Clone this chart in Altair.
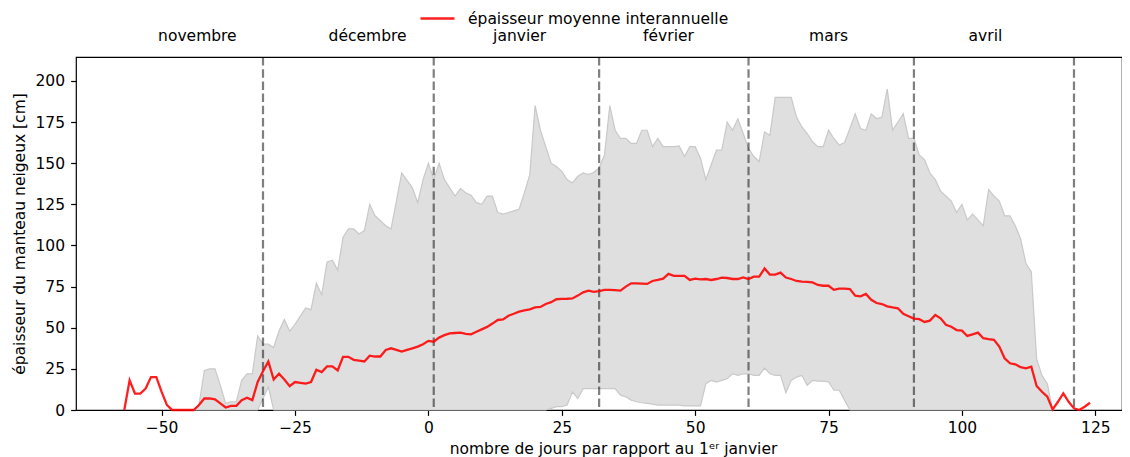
import altair as alt
import pandas as pd

# ---------------- data ----------------
mean_days = list(range(-57, 125))
mean_cm = [
    0, 18, 10, 10, 13, 20, 20, 11, 3, 0,            # -57..-48
    0, 0, 0, 0, 3, 7, 7, 6.5, 4, 1.5,               # -47..-38
    2.5, 2.5, 6, 7.5, 6, 17, 23.5, 29.5, 18.5, 22,  # -37..-28
    18.5, 14.5, 17, 16.5, 16, 17, 24.5, 23, 26.5, 26.5,  # -27..-18
    24, 32.3, 32.3, 30.5, 30, 29.5, 33, 32.5, 32.5, 36.5,  # -17..-8
    37.5, 36.5, 35.5, 36.5, 37.5, 38.5, 40, 42, 41.5, 44,  # -7..2
    45.5, 46.5, 46.8, 47, 46.3, 46, 47.5, 49, 50.5, 52.5,  # 3..12
    54.7, 55, 57.3, 58.5, 59.8, 60.5, 61.2, 62.4, 62.6, 64.4,  # 13..22
    65.5, 67.3, 67.5, 67.6, 67.8, 69.5, 71.5, 72.5, 71.8, 72.2,  # 23..32
    73, 73, 72.8, 72.5, 75, 77, 77, 76.8, 76.6, 78.4,  # 33..42
    79, 79.8, 82.7, 81.5, 81.5, 81.5, 79, 79.8, 79.4, 79.6,  # 43..52
    79, 79.6, 80.4, 80.2, 79.6, 79.6, 80.6, 79.6, 81, 81,  # 53..62
    86, 82.3, 82.3, 83.5, 80.5, 79.6, 78.4, 78, 77.8, 77.5,  # 63..72
    76, 75.5, 75.5, 73, 73.7, 73.7, 73.5, 69.5, 69.1, 70.5,  # 73..82
    67, 65, 64.4, 63, 62.3, 61.8, 58.4, 57, 55.5, 55.2,  # 83..92
    53.5, 54.3, 57.7, 55.7, 51.8, 50.6, 48.6, 48.2, 45, 46,  # 93..102
    47, 43.6, 43, 42.6, 38.5, 31.4, 28.4, 27.8, 26, 25.3,  # 103..112
    26.3, 14.6, 11.1, 8.1, 0.4, 5, 10.1, 5, 1, 0,  # 113..122
    2, 4.4,  # 123..124
]

band_days = list(range(-44, 118))
max_cm = [
    0, 3, 24, 25, 25, 15, 4, 5, 5, 18,               # -44..-35
    22, 22, 45, 40, 40, 38, 48, 55, 48, 52,          # -34..-25
    57, 62, 61, 77, 70, 90, 91, 85, 105, 110,        # -24..-15
    110, 107, 109, 125, 118, 115, 112, 110, 127, 144,  # -14..-5
    139.5, 135, 126, 140, 150, 140, 150, 140, 135, 130,  # -4..5
    134.5, 132, 130.5, 126, 125, 130, 130, 120, 119, 120,  # 6..15
    121, 122, 132, 143, 185, 170, 160, 150, 148, 145,  # 16..25
    140, 138, 142, 144, 143, 144.5, 147, 155, 185, 170,  # 26..35
    165, 165, 162, 162, 170, 170, 160, 165, 160, 160,  # 36..45
    160, 160.5, 154, 160, 160, 153, 140, 149, 158, 158,  # 46..55
    175, 170, 177, 168, 159, 154, 151, 169, 167, 190,  # 56..65
    190, 190, 190, 178, 172, 168, 163, 160, 160, 170,  # 66..75
    165, 161, 162.5, 171, 180, 171, 170, 180, 177, 178,  # 76..85
    195, 170, 175, 180, 165, 165, 155, 152, 144, 140,  # 86..95
    133, 130, 127, 120, 125, 115.5, 119, 115.5, 112, 134,  # 96..105
    130, 127, 118, 118, 112, 104, 89, 84, 31, 21,  # 106..115
    16, 0,  # 116..117
]
min_cm = (
    [0] * 12                                   # -44..-33
    + [0, 7, 14, 0]                            # -32..-29
    + [0] * 51                                 # -28..22
    + [1, 2, 2, 3, 11, 7]                      # 23..28
    + [13] * 7                                 # 29..35
    + [9, 8, 6, 5, 4.4, 4, 3.6]                # 36..42
    + [3] * 5                                  # 43..47
    + [2.5] * 4                                # 48..51
    + [16, 18, 17, 18, 19, 22, 21, 22, 22, 21]  # 52..61
    + [21, 25.5, 22, 21, 21, 10.5, 18, 20, 21, 15]  # 62..71
    + [18, 17.5, 17.5, 17, 12, 12, 6]          # 72..78
    + [0] * 39                                 # 79..117
)

month_start_days = [-31, 1, 32, 60, 91, 121]
month_names = ["novembre", "décembre", "janvier", "février", "mars", "avril"]
month_label_days = [-43.3, -11.4, 17.1, 45.0, 75.0, 104.4]

x_ticks = [-50, -25, 0, 25, 50, 75, 100, 125]
y_ticks = [0, 25, 50, 75, 100, 125, 150, 175, 200]

legend_label = "épaisseur moyenne interannuelle"

# ---------------- tables ----------------
mean_df = pd.DataFrame({"jour": mean_days, "moyenne": mean_cm, "serie": legend_label})
band_df = pd.DataFrame({"jour": band_days, "max": max_cm, "min": min_cm})
start_df = pd.DataFrame({"jour": month_start_days})
label_df = pd.DataFrame({"jour": month_label_days, "mois": month_names})

FONT = "DejaVu Sans"
FS = 15.5

xscale = alt.Scale(domain=[-66.05, 130.0], nice=False, zero=False)
yscale = alt.Scale(domain=[0, 214.5], nice=False, zero=False)

x_axis = alt.Axis(
    values=x_ticks,
    labelExpr="replace(datum.label, '-', '\u2212')",
    title="nombre de jours par rapport au 1\u1d49\u02b3 janvier",
    titleY=43,
    titleX=537,
    titleBaseline="alphabetic",
    labelPadding=5,
)
y_axis = alt.Axis(
    values=y_ticks,
    title="épaisseur du manteau neigeux [cm]",
    titleX=-57,
    titleY=176.5,
    titleAngle=270,
    titleAlign="center",
    titleBaseline="middle",
    labelPadding=6,
)

band = alt.Chart(band_df).mark_area(
    fill="#dfdfdf", stroke="#c9c9c9", strokeWidth=1.2
).encode(
    x=alt.X("jour:Q", scale=xscale, axis=x_axis),
    y=alt.Y("max:Q", scale=yscale, axis=y_axis),
    y2="min:Q",
)

rules = alt.Chart(start_df).mark_rule(
    color="black", opacity=0.5, strokeWidth=2.2, strokeDash=[8.5, 3.7]
).encode(x=alt.X("jour:Q", scale=xscale))

line = alt.Chart(mean_df).mark_line(strokeWidth=2.3, opacity=0.88).encode(
    x=alt.X("jour:Q", scale=xscale),
    y=alt.Y("moyenne:Q", scale=yscale),
    color=alt.Color(
        "serie:N",
        scale=alt.Scale(domain=[legend_label], range=["#ff0000"]),
        legend=alt.Legend(
            title=None,
            orient="none",
            legendX=343,
            legendY=-57,
            padding=0,
            symbolType="stroke",
            symbolSize=1156,
            symbolStrokeWidth=2.3,
            labelFont=FONT,
            labelFontSize=FS,
            labelColor="black",
            labelOffset=12,
            labelLimit=500,
        ),
    ),
)

labels = alt.Chart(label_df).mark_text(
    font=FONT, fontSize=FS, baseline="alphabetic", align="center", color="black"
).encode(
    x=alt.X("jour:Q", scale=xscale),
    y=alt.value(-16),
    text="mois:N",
)

chart = (
    alt.layer(band, rules, line, labels)
    .properties(
        width=1046,
        height=353,
        padding={"left": 68, "top": 49, "right": 0, "bottom": 48},
        autosize=alt.AutoSizeParams(type="none"),
    )
    .configure_view(stroke="black", strokeWidth=1.2)
    .configure_axis(
        grid=False,
        domain=False,
        labelFont=FONT,
        labelFontSize=FS,
        labelColor="black",
        titleFont=FONT,
        titleFontSize=FS,
        titleFontWeight="normal",
        titleColor="black",
        tickColor="black",
        tickSize=5.4,
        tickWidth=1.2,
    )
)

chart.save("out.html", embed_options={"renderer": "svg", "actions": False})
